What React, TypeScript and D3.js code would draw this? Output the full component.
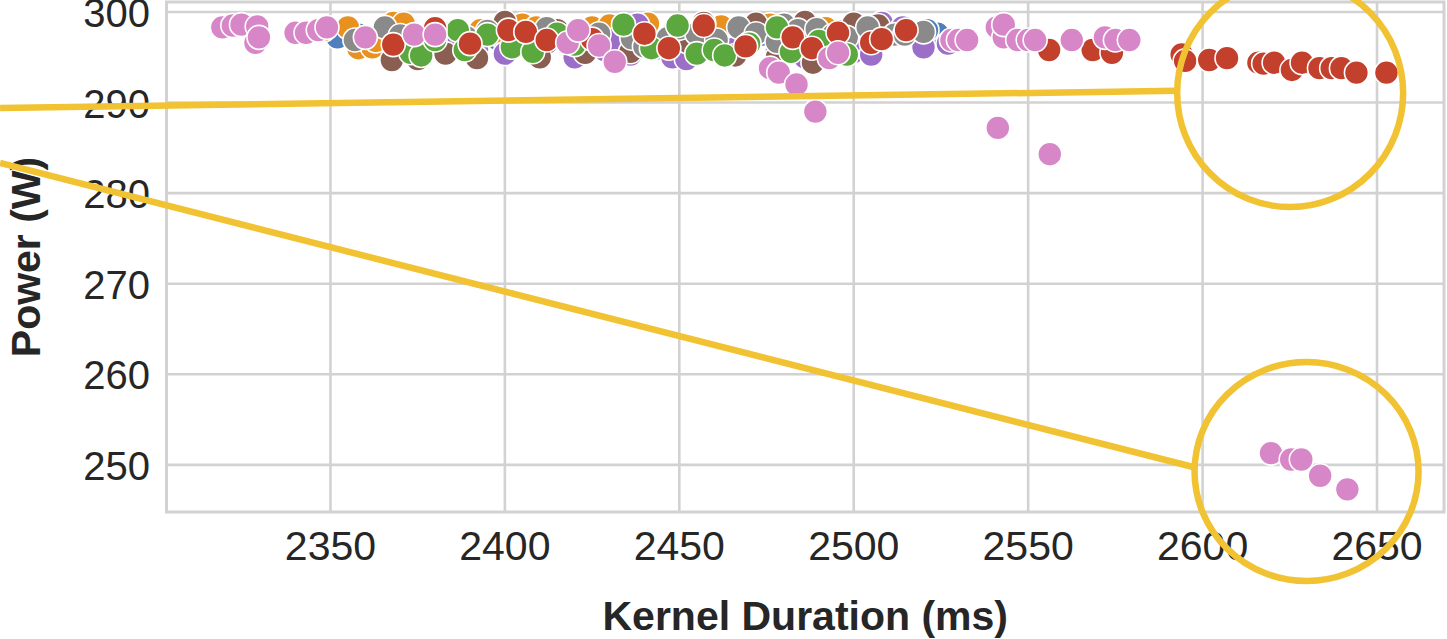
import React from 'react';
import * as d3 from 'd3';

const W = 1447;
const H = 639;

const xTicks = [2350, 2400, 2450, 2500, 2550, 2600, 2650];
const yTicks = [250, 260, 270, 280, 290, 300];
const xDomain = [2303, 2669.2];
const yDomain = [244.8, 301.1];
const xLabel = 'Kernel Duration (ms)';
const yLabel = 'Power (W)';

// [kernel duration (ms), power (W)]
const bluePts = [
  [2352, 297.2], [2358, 297.5], [2365, 297.0], [2384, 297.6], [2398, 297.0], [2410.5, 296.1],
  [2420, 297.8], [2437, 297.4], [2445, 296.2], [2455, 296.6], [2474, 297.5], [2482, 296.3],
  [2490, 296.0], [2497, 297.9], [2505, 297.6], [2513, 297.8], [2524, 297.6], [2521, 298.0],
];
const orangePts = [
  [2348, 298.0], [2355, 298.3], [2358, 296.0], [2362, 296.1], [2363, 296.8], [2368, 298.8],
  [2371, 298.7], [2380, 297.8], [2393, 298.0], [2400, 296.8], [2405, 298.6], [2409, 298.3],
  [2418, 297.2], [2425, 298.3], [2430, 298.5], [2441, 298.7], [2448, 297.6], [2455, 297.0],
  [2462, 298.4], [2476, 298.6], [2492, 298.2],
];
const purplePts = [
  [2385, 296.4], [2392, 295.8], [2400, 295.4], [2412, 296.6], [2420, 295.0], [2428.6, 295.8],
  [2431, 296.9], [2436, 295.3], [2438, 298.6], [2444, 296.0], [2448, 295.0], [2452, 294.8],
  [2466, 296.0], [2478, 295.8], [2486, 295.0], [2495, 296.8], [2500, 295.6], [2505, 295.3],
  [2508, 298.8], [2514, 298.3], [2520, 296.1], [2527, 296.5],
];
const brownPts = [
  [2367.6, 294.7], [2375, 294.8], [2383, 295.4], [2392, 294.9], [2400, 298.9], [2410, 295.0],
  [2415, 298.0], [2423, 295.5], [2436, 295.6], [2452.4, 296.7], [2457, 298.8], [2466, 295.2],
  [2472, 298.7], [2478, 295.0], [2486, 298.9], [2488.3, 294.4], [2500, 298.7], [2507, 298.5],
];
const grayPts = [
  [2357, 296.9], [2365.6, 298.3], [2370, 297.4], [2389, 297.2], [2395, 297.9], [2404, 296.5],
  [2412, 298.2], [2419, 297.3], [2427, 297.6], [2436.4, 297.1], [2440, 296.2], [2446.7, 297.1],
  [2450, 298.2], [2455, 297.6], [2460.7, 296.9], [2467, 298.3], [2472, 297.6], [2478, 296.7],
  [2480, 298.6], [2484, 298.0], [2489.4, 298.1], [2494, 297.4], [2498, 297.2], [2504, 298.3],
  [2511.7, 297.5], [2514.6, 297.5], [2520, 297.8],
];
const greenPts = [
  [2373, 295.5], [2376, 295.2], [2380, 296.9], [2386.5, 298.0], [2388.5, 295.8], [2395, 297.5],
  [2402, 296.1], [2408, 295.6], [2415, 297.6], [2420, 296.4], [2434, 298.6], [2442, 296.0],
  [2449.5, 298.5], [2455, 295.4], [2460, 295.8], [2463, 295.2], [2470, 296.5], [2478, 298.3],
  [2482, 295.6], [2490, 296.8], [2498, 295.3],
];
const redPts = [
  [2368, 296.4], [2380, 298.2], [2390, 296.5], [2401, 298.0], [2406, 297.8], [2412, 296.9],
  [2425, 297.0], [2440, 297.6], [2447, 296.0], [2457, 298.5], [2469, 296.2], [2482.5, 297.2],
  [2488, 296.0], [2495.5, 297.7], [2505, 296.6], [2508, 297.0], [2515, 298.0],
  [2556, 295.8], [2568.5, 295.8], [2574, 295.5], [2594, 295.3], [2595, 294.6], [2601.9, 294.7],
  [2607, 294.9], [2616, 294.4], [2617.5, 294.3], [2620.5, 294.4], [2625.6, 293.6], [2628.5, 294.4],
  [2633.5, 293.8], [2637, 293.8], [2639.8, 293.8], [2644.1, 293.3], [2652.7, 293.3],
];
const pinkPts = [
  [2319, 298.3], [2322, 298.5], [2324.5, 298.6], [2329, 298.4], [2328.5, 296.6], [2329.5, 297.2],
  [2340, 297.7], [2343, 297.7], [2346.5, 298.0], [2349, 298.3], [2360, 297.2], [2374, 297.5],
  [2380, 297.5], [2418, 296.6], [2421, 298.0], [2427, 296.3], [2431.5, 294.5], [2476, 293.8],
  [2478.5, 293.3], [2483.6, 292.0], [2489, 289.0], [2493, 294.9], [2495.5, 295.5], [2528, 296.9],
  [2530, 296.9], [2532.5, 296.9], [2541, 298.3], [2543, 297.2], [2543, 298.6], [2547, 296.9],
  [2550, 296.9], [2552, 296.9], [2541.3, 287.2], [2556.2, 284.3], [2562.5, 296.9], [2572, 297.2],
  [2575, 296.9], [2579, 296.9], [2619.6, 251.3], [2625.4, 250.6], [2628.3, 250.6], [2633.7, 248.8],
  [2641.5, 247.3],
];

const seriesOrder = [
  { key: 'blue', pts: bluePts },
  { key: 'orange', pts: orangePts },
  { key: 'purple', pts: purplePts },
  { key: 'brown', pts: brownPts },
  { key: 'gray', pts: grayPts },
  { key: 'green', pts: greenPts },
  { key: 'red', pts: redPts },
  { key: 'pink', pts: pinkPts },
];

const palette: Record<string, string> = {
  blue: '#4f80bd',
  orange: '#e8911f',
  green: '#5aa83e',
  red: '#c3402c',
  purple: '#9b6fc8',
  brown: '#8b5e52',
  gray: '#8a8a8a',
  pink: '#d787c7',
};

// annotation highlight ellipses (centre in data units) and connector lines (data units)
const highlightCenters = [
  [2625.1, 291.05],
  [2629.8, 249.27],
];
const connectorLines = [
  [[2255.3, 289.4], [2592.7, 291.3]],
  [[2255.3, 283.33], [2597.3, 249.77]],
];

export default function App() {
  const x = d3.scaleLinear().domain(xDomain).range([166.5, 1444]);
  const y = d3.scaleLinear().domain(yDomain).range([512, 2]);
  const font = '"Liberation Sans", Arial, Helvetica, sans-serif';
  const textColor = '#262626';
  const gridColor = '#d2d2d2';
  const yellow = '#f1c232';
  const hlRadii = [[113, 114], [112, 109.5]];

  return (
    <svg
      width={W}
      height={H}
      viewBox={`0 0 ${W} ${H}`}
      style={{ position: 'absolute', left: 0, top: 0, display: 'block', background: '#ffffff' }}
    >
      <rect x={0} y={0} width={W} height={H} fill="#ffffff" />
      {xTicks.map((t) => (
        <line key={`gx${t}`} x1={x(t)} x2={x(t)} y1={y(yDomain[0])} y2={y(yDomain[1])} stroke={gridColor} strokeWidth={2.6} />
      ))}
      {yTicks.map((t) => (
        <line key={`gy${t}`} x1={x(xDomain[0])} x2={x(xDomain[1])} y1={y(t)} y2={y(t)} stroke={gridColor} strokeWidth={2.6} />
      ))}
      <rect
        x={x(xDomain[0])}
        y={y(yDomain[1])}
        width={x(xDomain[1]) - x(xDomain[0])}
        height={y(yDomain[0]) - y(yDomain[1])}
        fill="none"
        stroke={gridColor}
        strokeWidth={3}
      />
      {seriesOrder.map((s) => (
        <g key={s.key}>
          {s.pts.map((p, i) => (
            <circle
              key={i}
              cx={x(p[0])}
              cy={y(p[1])}
              r={12}
              fill={palette[s.key]}
              stroke="#ffffff"
              strokeWidth={1.6}
            />
          ))}
        </g>
      ))}
      {xTicks.map((t) => (
        <text key={`tx${t}`} x={x(t)} y={560} textAnchor="middle" fontFamily={font} fontSize={41} fill={textColor}>
          {t}
        </text>
      ))}
      {yTicks.map((t) => (
        <text key={`ty${t}`} x={150} y={y(t) + 15} textAnchor="end" fontFamily={font} fontSize={40} fill={textColor}>
          {t}
        </text>
      ))}
      <text x={(x(xDomain[0]) + x(xDomain[1])) / 2} y={630} textAnchor="middle" fontFamily={font} fontSize={41} fontWeight="bold" fill={textColor}>
        {xLabel}
      </text>
      <text
        transform={`translate(40,${(y(yDomain[0]) + y(yDomain[1])) / 2}) rotate(-90)`}
        textAnchor="middle"
        fontFamily={font}
        fontSize={41}
        fontWeight="bold"
        fill={textColor}
      >
        {yLabel}
      </text>
      {connectorLines.map((l, i) => (
        <line key={`cl${i}`} x1={x(l[0][0])} y1={y(l[0][1])} x2={x(l[1][0])} y2={y(l[1][1])} stroke={yellow} strokeWidth={6.5} />
      ))}
      {highlightCenters.map((c, i) => (
        <ellipse key={`hc${i}`} cx={x(c[0])} cy={y(c[1])} rx={hlRadii[i][0]} ry={hlRadii[i][1]} fill="none" stroke={yellow} strokeWidth={6.5} />
      ))}
    </svg>
  );
}
